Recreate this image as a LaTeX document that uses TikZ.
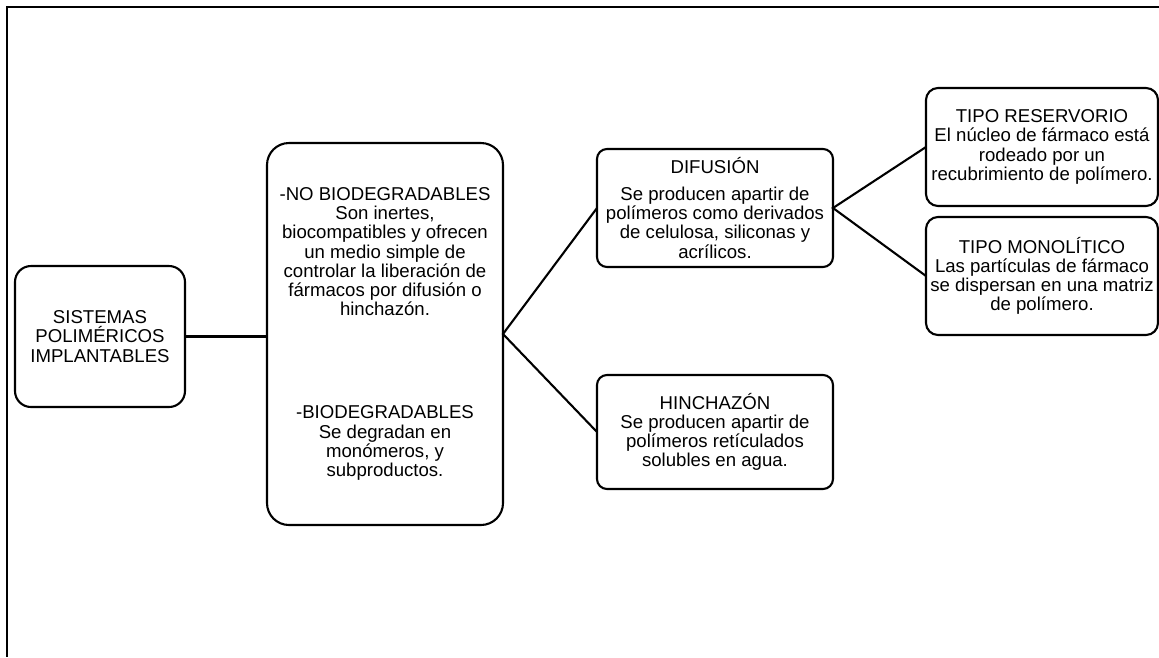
\documentclass[tikz,border=0pt]{standalone}
\usepackage{fontspec}
\setmainfont{Liberation Sans}
\usetikzlibrary{positioning}
\newcommand{\spFont}{\fontsize{18.6pt}{19.2pt}\selectfont}
\tikzset{
  spBox/.style={
    rectangle, rounded corners=#1, draw=black, fill=white,
    line width=2.1pt, outer sep=0pt, align=center, text=black,
    inner sep=2pt, font=\spFont
  },
  spBox/.default=10pt,
  spLink/.style={draw=black, line width=2.1pt},
  spFrame/.style={draw=black, line width=2.2pt}
}

\begin{document}
\begin{tikzpicture}[x=1pt, y=-1pt]
  \useasboundingbox (0,0) rectangle (1159,657);
  % page border
  \coordinate (frameTop) at (1159,7);
  \coordinate (frameCorner) at (7,7);
  \coordinate (frameBottom) at (7,657);
  \draw[spFrame] (frameTop) -- (frameCorner) -- (frameBottom);

  \node[spBox=16pt, minimum width=170pt, minimum height=141pt] (sistemas) at (100,336.5) {SISTEMAS\\POLIMÉRICOS\\IMPLANTABLES};
  \node[spBox=22pt, minimum width=236pt, minimum height=382pt, right=82pt of sistemas, yshift=2.5pt] (tipos) {-NO BIODEGRADABLES\\Son inertes,\\biocompatibles y ofrecen\\un medio simple de\\controlar la liberación de\\fármacos por difusión o\\hinchazón.\\[84pt]-BIODEGRADABLES\\Se degradan en\\monómeros, y\\subproductos.};
  \node[spBox, minimum width=236pt, minimum height=118pt, right=94pt of tipos, yshift=126pt] (difusion) {DIFUSIÓN\\[7.5pt]Se producen apartir de\\polímeros como derivados\\de celulosa, siliconas y\\acrílicos.};
  \node[spBox, minimum width=236pt, minimum height=114pt, below=108pt of difusion] (hinchazon) {HINCHAZÓN\\Se producen apartir de\\polímeros retículados\\solubles en agua.};
  \node[spBox=12pt, minimum width=232pt, minimum height=118pt, right=93pt of difusion, yshift=61pt] (reservorio) {TIPO RESERVORIO\\El núcleo de fármaco está\\rodeado por un\\recubrimiento de polímero.};
  \node[spBox=12pt, minimum width=232pt, minimum height=118pt, below=11pt of reservorio] (monolitico) {TIPO MONOLÍTICO\\Las partículas de fármaco\\se dispersan en una matriz\\de polímero.};

  \draw[spLink] (sistemas.east) -- (sistemas.east -| tipos.west);
  \draw[spLink] (difusion.west) -- (tipos.east) -- (hinchazon.west);
  \draw[spLink] (reservorio.west) -- (difusion.east) -- (monolitico.west);
\end{tikzpicture}
\end{document}
